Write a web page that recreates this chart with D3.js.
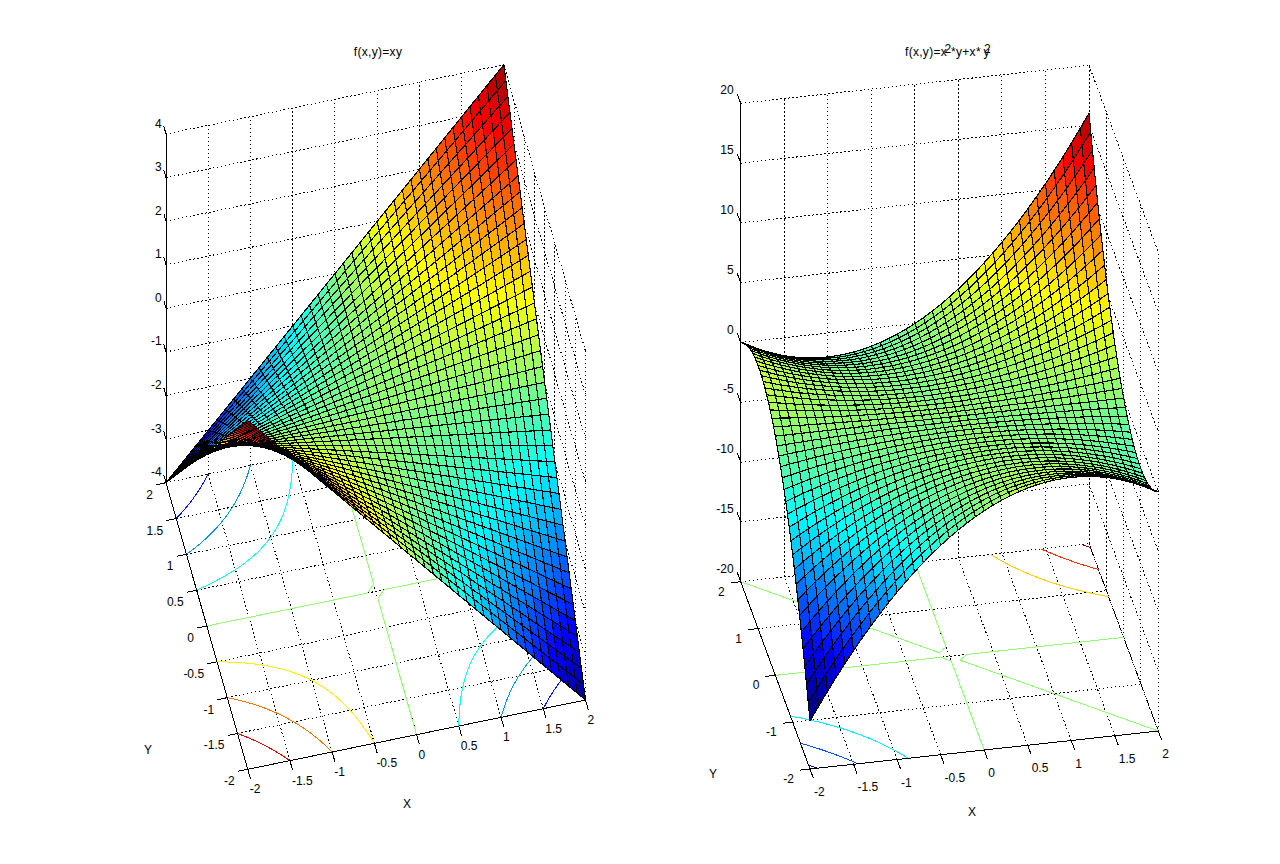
<!DOCTYPE html>
<html>
<head>
<meta charset="utf-8">
<script src="https://cdn.jsdelivr.net/npm/d3@7"></script>
<style>
body { margin: 0; background: #fff; }
text { font-family: "Liberation Sans", Arial, sans-serif; font-size: 12px; fill: #000; }
</style>
</head>
<body>
<script>
// mesh positions, same for both plots
var gridX = [-2,-1.9,-1.8,-1.7,-1.6,-1.5,-1.4,-1.3,-1.2,-1.1,-1,-0.9,-0.8,-0.7,-0.6,-0.5,-0.4,-0.3,-0.2,-0.1,0,0.1,0.2,0.3,0.4,0.5,0.6,0.7,0.8,0.9,1,1.1,1.2,1.3,1.4,1.5,1.6,1.7,1.8,1.9,2]
var gridY = [-2,-1.9,-1.8,-1.7,-1.6,-1.5,-1.4,-1.3,-1.2,-1.1,-1,-0.9,-0.8,-0.7,-0.6,-0.5,-0.4,-0.3,-0.2,-0.1,0,0.1,0.2,0.3,0.4,0.5,0.6,0.7,0.8,0.9,1,1.1,1.2,1.3,1.4,1.5,1.6,1.7,1.8,1.9,2]

// left plot, one row per gridY value
var heightsLeft = [
[4,3.8,3.6,3.4,3.2,3,2.8,2.6,2.4,2.2,2,1.8,1.6,1.4,1.2,1,0.8,0.6,0.4,0.2,0,-0.2,-0.4,-0.6,-0.8,-1,-1.2,-1.4,-1.6,-1.8,-2,-2.2,-2.4,-2.6,-2.8,-3,-3.2,-3.4,-3.6,-3.8,-4],
[3.8,3.61,3.42,3.23,3.04,2.85,2.66,2.47,2.28,2.09,1.9,1.71,1.52,1.33,1.14,0.95,0.76,0.57,0.38,0.19,0,-0.19,-0.38,-0.57,-0.76,-0.95,-1.14,-1.33,-1.52,-1.71,-1.9,-2.09,-2.28,-2.47,-2.66,-2.85,-3.04,-3.23,-3.42,-3.61,-3.8],
[3.6,3.42,3.24,3.06,2.88,2.7,2.52,2.34,2.16,1.98,1.8,1.62,1.44,1.26,1.08,0.9,0.72,0.54,0.36,0.18,0,-0.18,-0.36,-0.54,-0.72,-0.9,-1.08,-1.26,-1.44,-1.62,-1.8,-1.98,-2.16,-2.34,-2.52,-2.7,-2.88,-3.06,-3.24,-3.42,-3.6],
[3.4,3.23,3.06,2.89,2.72,2.55,2.38,2.21,2.04,1.87,1.7,1.53,1.36,1.19,1.02,0.85,0.68,0.51,0.34,0.17,0,-0.17,-0.34,-0.51,-0.68,-0.85,-1.02,-1.19,-1.36,-1.53,-1.7,-1.87,-2.04,-2.21,-2.38,-2.55,-2.72,-2.89,-3.06,-3.23,-3.4],
[3.2,3.04,2.88,2.72,2.56,2.4,2.24,2.08,1.92,1.76,1.6,1.44,1.28,1.12,0.96,0.8,0.64,0.48,0.32,0.16,0,-0.16,-0.32,-0.48,-0.64,-0.8,-0.96,-1.12,-1.28,-1.44,-1.6,-1.76,-1.92,-2.08,-2.24,-2.4,-2.56,-2.72,-2.88,-3.04,-3.2],
[3,2.85,2.7,2.55,2.4,2.25,2.1,1.95,1.8,1.65,1.5,1.35,1.2,1.05,0.9,0.75,0.6,0.45,0.3,0.15,0,-0.15,-0.3,-0.45,-0.6,-0.75,-0.9,-1.05,-1.2,-1.35,-1.5,-1.65,-1.8,-1.95,-2.1,-2.25,-2.4,-2.55,-2.7,-2.85,-3],
[2.8,2.66,2.52,2.38,2.24,2.1,1.96,1.82,1.68,1.54,1.4,1.26,1.12,0.98,0.84,0.7,0.56,0.42,0.28,0.14,0,-0.14,-0.28,-0.42,-0.56,-0.7,-0.84,-0.98,-1.12,-1.26,-1.4,-1.54,-1.68,-1.82,-1.96,-2.1,-2.24,-2.38,-2.52,-2.66,-2.8],
[2.6,2.47,2.34,2.21,2.08,1.95,1.82,1.69,1.56,1.43,1.3,1.17,1.04,0.91,0.78,0.65,0.52,0.39,0.26,0.13,0,-0.13,-0.26,-0.39,-0.52,-0.65,-0.78,-0.91,-1.04,-1.17,-1.3,-1.43,-1.56,-1.69,-1.82,-1.95,-2.08,-2.21,-2.34,-2.47,-2.6],
[2.4,2.28,2.16,2.04,1.92,1.8,1.68,1.56,1.44,1.32,1.2,1.08,0.96,0.84,0.72,0.6,0.48,0.36,0.24,0.12,0,-0.12,-0.24,-0.36,-0.48,-0.6,-0.72,-0.84,-0.96,-1.08,-1.2,-1.32,-1.44,-1.56,-1.68,-1.8,-1.92,-2.04,-2.16,-2.28,-2.4],
[2.2,2.09,1.98,1.87,1.76,1.65,1.54,1.43,1.32,1.21,1.1,0.99,0.88,0.77,0.66,0.55,0.44,0.33,0.22,0.11,0,-0.11,-0.22,-0.33,-0.44,-0.55,-0.66,-0.77,-0.88,-0.99,-1.1,-1.21,-1.32,-1.43,-1.54,-1.65,-1.76,-1.87,-1.98,-2.09,-2.2],
[2,1.9,1.8,1.7,1.6,1.5,1.4,1.3,1.2,1.1,1,0.9,0.8,0.7,0.6,0.5,0.4,0.3,0.2,0.1,0,-0.1,-0.2,-0.3,-0.4,-0.5,-0.6,-0.7,-0.8,-0.9,-1,-1.1,-1.2,-1.3,-1.4,-1.5,-1.6,-1.7,-1.8,-1.9,-2],
[1.8,1.71,1.62,1.53,1.44,1.35,1.26,1.17,1.08,0.99,0.9,0.81,0.72,0.63,0.54,0.45,0.36,0.27,0.18,0.09,0,-0.09,-0.18,-0.27,-0.36,-0.45,-0.54,-0.63,-0.72,-0.81,-0.9,-0.99,-1.08,-1.17,-1.26,-1.35,-1.44,-1.53,-1.62,-1.71,-1.8],
[1.6,1.52,1.44,1.36,1.28,1.2,1.12,1.04,0.96,0.88,0.8,0.72,0.64,0.56,0.48,0.4,0.32,0.24,0.16,0.08,0,-0.08,-0.16,-0.24,-0.32,-0.4,-0.48,-0.56,-0.64,-0.72,-0.8,-0.88,-0.96,-1.04,-1.12,-1.2,-1.28,-1.36,-1.44,-1.52,-1.6],
[1.4,1.33,1.26,1.19,1.12,1.05,0.98,0.91,0.84,0.77,0.7,0.63,0.56,0.49,0.42,0.35,0.28,0.21,0.14,0.07,0,-0.07,-0.14,-0.21,-0.28,-0.35,-0.42,-0.49,-0.56,-0.63,-0.7,-0.77,-0.84,-0.91,-0.98,-1.05,-1.12,-1.19,-1.26,-1.33,-1.4],
[1.2,1.14,1.08,1.02,0.96,0.9,0.84,0.78,0.72,0.66,0.6,0.54,0.48,0.42,0.36,0.3,0.24,0.18,0.12,0.06,0,-0.06,-0.12,-0.18,-0.24,-0.3,-0.36,-0.42,-0.48,-0.54,-0.6,-0.66,-0.72,-0.78,-0.84,-0.9,-0.96,-1.02,-1.08,-1.14,-1.2],
[1,0.95,0.9,0.85,0.8,0.75,0.7,0.65,0.6,0.55,0.5,0.45,0.4,0.35,0.3,0.25,0.2,0.15,0.1,0.05,0,-0.05,-0.1,-0.15,-0.2,-0.25,-0.3,-0.35,-0.4,-0.45,-0.5,-0.55,-0.6,-0.65,-0.7,-0.75,-0.8,-0.85,-0.9,-0.95,-1],
[0.8,0.76,0.72,0.68,0.64,0.6,0.56,0.52,0.48,0.44,0.4,0.36,0.32,0.28,0.24,0.2,0.16,0.12,0.08,0.04,0,-0.04,-0.08,-0.12,-0.16,-0.2,-0.24,-0.28,-0.32,-0.36,-0.4,-0.44,-0.48,-0.52,-0.56,-0.6,-0.64,-0.68,-0.72,-0.76,-0.8],
[0.6,0.57,0.54,0.51,0.48,0.45,0.42,0.39,0.36,0.33,0.3,0.27,0.24,0.21,0.18,0.15,0.12,0.09,0.06,0.03,0,-0.03,-0.06,-0.09,-0.12,-0.15,-0.18,-0.21,-0.24,-0.27,-0.3,-0.33,-0.36,-0.39,-0.42,-0.45,-0.48,-0.51,-0.54,-0.57,-0.6],
[0.4,0.38,0.36,0.34,0.32,0.3,0.28,0.26,0.24,0.22,0.2,0.18,0.16,0.14,0.12,0.1,0.08,0.06,0.04,0.02,0,-0.02,-0.04,-0.06,-0.08,-0.1,-0.12,-0.14,-0.16,-0.18,-0.2,-0.22,-0.24,-0.26,-0.28,-0.3,-0.32,-0.34,-0.36,-0.38,-0.4],
[0.2,0.19,0.18,0.17,0.16,0.15,0.14,0.13,0.12,0.11,0.1,0.09,0.08,0.07,0.06,0.05,0.04,0.03,0.02,0.01,0,-0.01,-0.02,-0.03,-0.04,-0.05,-0.06,-0.07,-0.08,-0.09,-0.1,-0.11,-0.12,-0.13,-0.14,-0.15,-0.16,-0.17,-0.18,-0.19,-0.2],
[0,0,0,0,0,0,0,0,0,0,0,0,0,0,0,0,0,0,0,0,0,0,0,0,0,0,0,0,0,0,0,0,0,0,0,0,0,0,0,0,0],
[-0.2,-0.19,-0.18,-0.17,-0.16,-0.15,-0.14,-0.13,-0.12,-0.11,-0.1,-0.09,-0.08,-0.07,-0.06,-0.05,-0.04,-0.03,-0.02,-0.01,0,0.01,0.02,0.03,0.04,0.05,0.06,0.07,0.08,0.09,0.1,0.11,0.12,0.13,0.14,0.15,0.16,0.17,0.18,0.19,0.2],
[-0.4,-0.38,-0.36,-0.34,-0.32,-0.3,-0.28,-0.26,-0.24,-0.22,-0.2,-0.18,-0.16,-0.14,-0.12,-0.1,-0.08,-0.06,-0.04,-0.02,0,0.02,0.04,0.06,0.08,0.1,0.12,0.14,0.16,0.18,0.2,0.22,0.24,0.26,0.28,0.3,0.32,0.34,0.36,0.38,0.4],
[-0.6,-0.57,-0.54,-0.51,-0.48,-0.45,-0.42,-0.39,-0.36,-0.33,-0.3,-0.27,-0.24,-0.21,-0.18,-0.15,-0.12,-0.09,-0.06,-0.03,0,0.03,0.06,0.09,0.12,0.15,0.18,0.21,0.24,0.27,0.3,0.33,0.36,0.39,0.42,0.45,0.48,0.51,0.54,0.57,0.6],
[-0.8,-0.76,-0.72,-0.68,-0.64,-0.6,-0.56,-0.52,-0.48,-0.44,-0.4,-0.36,-0.32,-0.28,-0.24,-0.2,-0.16,-0.12,-0.08,-0.04,0,0.04,0.08,0.12,0.16,0.2,0.24,0.28,0.32,0.36,0.4,0.44,0.48,0.52,0.56,0.6,0.64,0.68,0.72,0.76,0.8],
[-1,-0.95,-0.9,-0.85,-0.8,-0.75,-0.7,-0.65,-0.6,-0.55,-0.5,-0.45,-0.4,-0.35,-0.3,-0.25,-0.2,-0.15,-0.1,-0.05,0,0.05,0.1,0.15,0.2,0.25,0.3,0.35,0.4,0.45,0.5,0.55,0.6,0.65,0.7,0.75,0.8,0.85,0.9,0.95,1],
[-1.2,-1.14,-1.08,-1.02,-0.96,-0.9,-0.84,-0.78,-0.72,-0.66,-0.6,-0.54,-0.48,-0.42,-0.36,-0.3,-0.24,-0.18,-0.12,-0.06,0,0.06,0.12,0.18,0.24,0.3,0.36,0.42,0.48,0.54,0.6,0.66,0.72,0.78,0.84,0.9,0.96,1.02,1.08,1.14,1.2],
[-1.4,-1.33,-1.26,-1.19,-1.12,-1.05,-0.98,-0.91,-0.84,-0.77,-0.7,-0.63,-0.56,-0.49,-0.42,-0.35,-0.28,-0.21,-0.14,-0.07,0,0.07,0.14,0.21,0.28,0.35,0.42,0.49,0.56,0.63,0.7,0.77,0.84,0.91,0.98,1.05,1.12,1.19,1.26,1.33,1.4],
[-1.6,-1.52,-1.44,-1.36,-1.28,-1.2,-1.12,-1.04,-0.96,-0.88,-0.8,-0.72,-0.64,-0.56,-0.48,-0.4,-0.32,-0.24,-0.16,-0.08,0,0.08,0.16,0.24,0.32,0.4,0.48,0.56,0.64,0.72,0.8,0.88,0.96,1.04,1.12,1.2,1.28,1.36,1.44,1.52,1.6],
[-1.8,-1.71,-1.62,-1.53,-1.44,-1.35,-1.26,-1.17,-1.08,-0.99,-0.9,-0.81,-0.72,-0.63,-0.54,-0.45,-0.36,-0.27,-0.18,-0.09,0,0.09,0.18,0.27,0.36,0.45,0.54,0.63,0.72,0.81,0.9,0.99,1.08,1.17,1.26,1.35,1.44,1.53,1.62,1.71,1.8],
[-2,-1.9,-1.8,-1.7,-1.6,-1.5,-1.4,-1.3,-1.2,-1.1,-1,-0.9,-0.8,-0.7,-0.6,-0.5,-0.4,-0.3,-0.2,-0.1,0,0.1,0.2,0.3,0.4,0.5,0.6,0.7,0.8,0.9,1,1.1,1.2,1.3,1.4,1.5,1.6,1.7,1.8,1.9,2],
[-2.2,-2.09,-1.98,-1.87,-1.76,-1.65,-1.54,-1.43,-1.32,-1.21,-1.1,-0.99,-0.88,-0.77,-0.66,-0.55,-0.44,-0.33,-0.22,-0.11,0,0.11,0.22,0.33,0.44,0.55,0.66,0.77,0.88,0.99,1.1,1.21,1.32,1.43,1.54,1.65,1.76,1.87,1.98,2.09,2.2],
[-2.4,-2.28,-2.16,-2.04,-1.92,-1.8,-1.68,-1.56,-1.44,-1.32,-1.2,-1.08,-0.96,-0.84,-0.72,-0.6,-0.48,-0.36,-0.24,-0.12,0,0.12,0.24,0.36,0.48,0.6,0.72,0.84,0.96,1.08,1.2,1.32,1.44,1.56,1.68,1.8,1.92,2.04,2.16,2.28,2.4],
[-2.6,-2.47,-2.34,-2.21,-2.08,-1.95,-1.82,-1.69,-1.56,-1.43,-1.3,-1.17,-1.04,-0.91,-0.78,-0.65,-0.52,-0.39,-0.26,-0.13,0,0.13,0.26,0.39,0.52,0.65,0.78,0.91,1.04,1.17,1.3,1.43,1.56,1.69,1.82,1.95,2.08,2.21,2.34,2.47,2.6],
[-2.8,-2.66,-2.52,-2.38,-2.24,-2.1,-1.96,-1.82,-1.68,-1.54,-1.4,-1.26,-1.12,-0.98,-0.84,-0.7,-0.56,-0.42,-0.28,-0.14,0,0.14,0.28,0.42,0.56,0.7,0.84,0.98,1.12,1.26,1.4,1.54,1.68,1.82,1.96,2.1,2.24,2.38,2.52,2.66,2.8],
[-3,-2.85,-2.7,-2.55,-2.4,-2.25,-2.1,-1.95,-1.8,-1.65,-1.5,-1.35,-1.2,-1.05,-0.9,-0.75,-0.6,-0.45,-0.3,-0.15,0,0.15,0.3,0.45,0.6,0.75,0.9,1.05,1.2,1.35,1.5,1.65,1.8,1.95,2.1,2.25,2.4,2.55,2.7,2.85,3],
[-3.2,-3.04,-2.88,-2.72,-2.56,-2.4,-2.24,-2.08,-1.92,-1.76,-1.6,-1.44,-1.28,-1.12,-0.96,-0.8,-0.64,-0.48,-0.32,-0.16,0,0.16,0.32,0.48,0.64,0.8,0.96,1.12,1.28,1.44,1.6,1.76,1.92,2.08,2.24,2.4,2.56,2.72,2.88,3.04,3.2],
[-3.4,-3.23,-3.06,-2.89,-2.72,-2.55,-2.38,-2.21,-2.04,-1.87,-1.7,-1.53,-1.36,-1.19,-1.02,-0.85,-0.68,-0.51,-0.34,-0.17,0,0.17,0.34,0.51,0.68,0.85,1.02,1.19,1.36,1.53,1.7,1.87,2.04,2.21,2.38,2.55,2.72,2.89,3.06,3.23,3.4],
[-3.6,-3.42,-3.24,-3.06,-2.88,-2.7,-2.52,-2.34,-2.16,-1.98,-1.8,-1.62,-1.44,-1.26,-1.08,-0.9,-0.72,-0.54,-0.36,-0.18,0,0.18,0.36,0.54,0.72,0.9,1.08,1.26,1.44,1.62,1.8,1.98,2.16,2.34,2.52,2.7,2.88,3.06,3.24,3.42,3.6],
[-3.8,-3.61,-3.42,-3.23,-3.04,-2.85,-2.66,-2.47,-2.28,-2.09,-1.9,-1.71,-1.52,-1.33,-1.14,-0.95,-0.76,-0.57,-0.38,-0.19,0,0.19,0.38,0.57,0.76,0.95,1.14,1.33,1.52,1.71,1.9,2.09,2.28,2.47,2.66,2.85,3.04,3.23,3.42,3.61,3.8],
[-4,-3.8,-3.6,-3.4,-3.2,-3,-2.8,-2.6,-2.4,-2.2,-2,-1.8,-1.6,-1.4,-1.2,-1,-0.8,-0.6,-0.4,-0.2,0,0.2,0.4,0.6,0.8,1,1.2,1.4,1.6,1.8,2,2.2,2.4,2.6,2.8,3,3.2,3.4,3.6,3.8,4]
]

// right plot, one row per gridY value
var heightsRight = [
[-16,-14.82,-13.68,-12.58,-11.52,-10.5,-9.52,-8.58,-7.68,-6.82,-6,-5.22,-4.48,-3.78,-3.12,-2.5,-1.92,-1.38,-0.88,-0.42,0,0.38,0.72,1.02,1.28,1.5,1.68,1.82,1.92,1.98,2,1.98,1.92,1.82,1.68,1.5,1.28,1.02,0.72,0.38,0],
[-14.82,-13.72,-12.65,-11.63,-10.64,-9.69,-8.78,-7.9,-7.07,-6.27,-5.51,-4.79,-4.1,-3.46,-2.85,-2.28,-1.75,-1.25,-0.8,-0.38,0,0.34,0.65,0.91,1.14,1.33,1.48,1.6,1.67,1.71,1.71,1.67,1.6,1.48,1.33,1.14,0.91,0.65,0.34,0,-0.38],
[-13.68,-12.65,-11.66,-10.71,-9.79,-8.91,-8.06,-7.25,-6.48,-5.74,-5.04,-4.37,-3.74,-3.15,-2.59,-2.07,-1.58,-1.13,-0.72,-0.34,0,0.31,0.58,0.81,1.01,1.17,1.3,1.39,1.44,1.46,1.44,1.39,1.3,1.17,1.01,0.81,0.58,0.31,0,-0.34,-0.72],
[-12.58,-11.63,-10.71,-9.83,-8.98,-8.16,-7.38,-6.63,-5.92,-5.24,-4.59,-3.98,-3.4,-2.86,-2.35,-1.87,-1.43,-1.02,-0.65,-0.31,0,0.27,0.51,0.71,0.88,1.02,1.12,1.19,1.22,1.22,1.19,1.12,1.02,0.88,0.71,0.51,0.27,0,-0.31,-0.65,-1.02],
[-11.52,-10.64,-9.79,-8.98,-8.19,-7.44,-6.72,-6.03,-5.38,-4.75,-4.16,-3.6,-3.07,-2.58,-2.11,-1.68,-1.28,-0.91,-0.58,-0.27,0,0.24,0.45,0.62,0.77,0.88,0.96,1.01,1.02,1.01,0.96,0.88,0.77,0.62,0.45,0.24,0,-0.27,-0.58,-0.91,-1.28],
[-10.5,-9.69,-8.91,-8.16,-7.44,-6.75,-6.09,-5.46,-4.86,-4.29,-3.75,-3.24,-2.76,-2.31,-1.89,-1.5,-1.14,-0.81,-0.51,-0.24,0,0.21,0.39,0.54,0.66,0.75,0.81,0.84,0.84,0.81,0.75,0.66,0.54,0.39,0.21,0,-0.24,-0.51,-0.81,-1.14,-1.5],
[-9.52,-8.78,-8.06,-7.38,-6.72,-6.09,-5.49,-4.91,-4.37,-3.85,-3.36,-2.9,-2.46,-2.06,-1.68,-1.33,-1.01,-0.71,-0.45,-0.21,0,0.18,0.34,0.46,0.56,0.63,0.67,0.69,0.67,0.63,0.56,0.46,0.34,0.18,0,-0.21,-0.45,-0.71,-1.01,-1.33,-1.68],
[-8.58,-7.9,-7.25,-6.63,-6.03,-5.46,-4.91,-4.39,-3.9,-3.43,-2.99,-2.57,-2.18,-1.82,-1.48,-1.17,-0.88,-0.62,-0.39,-0.18,0,0.16,0.29,0.39,0.47,0.52,0.55,0.55,0.52,0.47,0.39,0.29,0.16,0,-0.18,-0.39,-0.62,-0.88,-1.17,-1.48,-1.82],
[-7.68,-7.07,-6.48,-5.92,-5.38,-4.86,-4.37,-3.9,-3.46,-3.04,-2.64,-2.27,-1.92,-1.6,-1.3,-1.02,-0.77,-0.54,-0.34,-0.16,0,0.13,0.24,0.32,0.38,0.42,0.43,0.42,0.38,0.32,0.24,0.13,0,-0.16,-0.34,-0.54,-0.77,-1.02,-1.3,-1.6,-1.92],
[-6.82,-6.27,-5.74,-5.24,-4.75,-4.29,-3.85,-3.43,-3.04,-2.66,-2.31,-1.98,-1.67,-1.39,-1.12,-0.88,-0.66,-0.46,-0.29,-0.13,0,0.11,0.2,0.26,0.31,0.33,0.33,0.31,0.26,0.2,0.11,0,-0.13,-0.29,-0.46,-0.66,-0.88,-1.12,-1.39,-1.67,-1.98],
[-6,-5.51,-5.04,-4.59,-4.16,-3.75,-3.36,-2.99,-2.64,-2.31,-2,-1.71,-1.44,-1.19,-0.96,-0.75,-0.56,-0.39,-0.24,-0.11,0,0.09,0.16,0.21,0.24,0.25,0.24,0.21,0.16,0.09,0,-0.11,-0.24,-0.39,-0.56,-0.75,-0.96,-1.19,-1.44,-1.71,-2],
[-5.22,-4.79,-4.37,-3.98,-3.6,-3.24,-2.9,-2.57,-2.27,-1.98,-1.71,-1.46,-1.22,-1.01,-0.81,-0.63,-0.47,-0.32,-0.2,-0.09,0,0.07,0.13,0.16,0.18,0.18,0.16,0.13,0.07,0,-0.09,-0.2,-0.32,-0.47,-0.63,-0.81,-1.01,-1.22,-1.46,-1.71,-1.98],
[-4.48,-4.1,-3.74,-3.4,-3.07,-2.76,-2.46,-2.18,-1.92,-1.67,-1.44,-1.22,-1.02,-0.84,-0.67,-0.52,-0.38,-0.26,-0.16,-0.07,0,0.06,0.1,0.12,0.13,0.12,0.1,0.06,0,-0.07,-0.16,-0.26,-0.38,-0.52,-0.67,-0.84,-1.02,-1.22,-1.44,-1.67,-1.92],
[-3.78,-3.46,-3.15,-2.86,-2.58,-2.31,-2.06,-1.82,-1.6,-1.39,-1.19,-1.01,-0.84,-0.69,-0.55,-0.42,-0.31,-0.21,-0.13,-0.06,0,0.04,0.07,0.08,0.08,0.07,0.04,0,-0.06,-0.13,-0.21,-0.31,-0.42,-0.55,-0.69,-0.84,-1.01,-1.19,-1.39,-1.6,-1.82],
[-3.12,-2.85,-2.59,-2.35,-2.11,-1.89,-1.68,-1.48,-1.3,-1.12,-0.96,-0.81,-0.67,-0.55,-0.43,-0.33,-0.24,-0.16,-0.1,-0.04,0,0.03,0.05,0.05,0.05,0.03,0,-0.04,-0.1,-0.16,-0.24,-0.33,-0.43,-0.55,-0.67,-0.81,-0.96,-1.12,-1.3,-1.48,-1.68],
[-2.5,-2.28,-2.07,-1.87,-1.68,-1.5,-1.33,-1.17,-1.02,-0.88,-0.75,-0.63,-0.52,-0.42,-0.33,-0.25,-0.18,-0.12,-0.07,-0.03,0,0.02,0.03,0.03,0.02,0,-0.03,-0.07,-0.12,-0.18,-0.25,-0.33,-0.42,-0.52,-0.63,-0.75,-0.88,-1.02,-1.17,-1.33,-1.5],
[-1.92,-1.75,-1.58,-1.43,-1.28,-1.14,-1.01,-0.88,-0.77,-0.66,-0.56,-0.47,-0.38,-0.31,-0.24,-0.18,-0.13,-0.08,-0.05,-0.02,0,0.01,0.02,0.01,0,-0.02,-0.05,-0.08,-0.13,-0.18,-0.24,-0.31,-0.38,-0.47,-0.56,-0.66,-0.77,-0.88,-1.01,-1.14,-1.28],
[-1.38,-1.25,-1.13,-1.02,-0.91,-0.81,-0.71,-0.62,-0.54,-0.46,-0.39,-0.32,-0.26,-0.21,-0.16,-0.12,-0.08,-0.05,-0.03,-0.01,0,0.01,0.01,0,-0.01,-0.03,-0.05,-0.08,-0.12,-0.16,-0.21,-0.26,-0.32,-0.39,-0.46,-0.54,-0.62,-0.71,-0.81,-0.91,-1.02],
[-0.88,-0.8,-0.72,-0.65,-0.58,-0.51,-0.45,-0.39,-0.34,-0.29,-0.24,-0.2,-0.16,-0.13,-0.1,-0.07,-0.05,-0.03,-0.02,-0.006,0,0.002,0,-0.01,-0.02,-0.03,-0.05,-0.07,-0.1,-0.13,-0.16,-0.2,-0.24,-0.29,-0.34,-0.39,-0.45,-0.51,-0.58,-0.65,-0.72],
[-0.42,-0.38,-0.34,-0.31,-0.27,-0.24,-0.21,-0.18,-0.16,-0.13,-0.11,-0.09,-0.07,-0.06,-0.04,-0.03,-0.02,-0.01,-0.006,-0.002,0,0,-0.002,-0.006,-0.01,-0.02,-0.03,-0.04,-0.06,-0.07,-0.09,-0.11,-0.13,-0.16,-0.18,-0.21,-0.24,-0.27,-0.31,-0.34,-0.38],
[0,0,0,0,0,0,0,0,0,0,0,0,0,0,0,0,0,0,0,0,0,0,0,0,0,0,0,0,0,0,0,0,0,0,0,0,0,0,0,0,0],
[0.38,0.34,0.31,0.27,0.24,0.21,0.18,0.16,0.13,0.11,0.09,0.07,0.06,0.04,0.03,0.02,0.01,0.006,0.002,0,0,0.002,0.006,0.01,0.02,0.03,0.04,0.06,0.07,0.09,0.11,0.13,0.16,0.18,0.21,0.24,0.27,0.31,0.34,0.38,0.42],
[0.72,0.65,0.58,0.51,0.45,0.39,0.34,0.29,0.24,0.2,0.16,0.13,0.1,0.07,0.05,0.03,0.02,0.01,0,-0.002,0,0.006,0.02,0.03,0.05,0.07,0.1,0.13,0.16,0.2,0.24,0.29,0.34,0.39,0.45,0.51,0.58,0.65,0.72,0.8,0.88],
[1.02,0.91,0.81,0.71,0.62,0.54,0.46,0.39,0.32,0.26,0.21,0.16,0.12,0.08,0.05,0.03,0.01,0,-0.01,-0.01,0,0.01,0.03,0.05,0.08,0.12,0.16,0.21,0.26,0.32,0.39,0.46,0.54,0.62,0.71,0.81,0.91,1.02,1.13,1.25,1.38],
[1.28,1.14,1.01,0.88,0.77,0.66,0.56,0.47,0.38,0.31,0.24,0.18,0.13,0.08,0.05,0.02,0,-0.01,-0.02,-0.01,0,0.02,0.05,0.08,0.13,0.18,0.24,0.31,0.38,0.47,0.56,0.66,0.77,0.88,1.01,1.14,1.28,1.43,1.58,1.75,1.92],
[1.5,1.33,1.17,1.02,0.88,0.75,0.63,0.52,0.42,0.33,0.25,0.18,0.12,0.07,0.03,0,-0.02,-0.03,-0.03,-0.02,0,0.03,0.07,0.12,0.18,0.25,0.33,0.42,0.52,0.63,0.75,0.88,1.02,1.17,1.33,1.5,1.68,1.87,2.07,2.28,2.5],
[1.68,1.48,1.3,1.12,0.96,0.81,0.67,0.55,0.43,0.33,0.24,0.16,0.1,0.04,0,-0.03,-0.05,-0.05,-0.05,-0.03,0,0.04,0.1,0.16,0.24,0.33,0.43,0.55,0.67,0.81,0.96,1.12,1.3,1.48,1.68,1.89,2.11,2.35,2.59,2.85,3.12],
[1.82,1.6,1.39,1.19,1.01,0.84,0.69,0.55,0.42,0.31,0.21,0.13,0.06,0,-0.04,-0.07,-0.08,-0.08,-0.07,-0.04,0,0.06,0.13,0.21,0.31,0.42,0.55,0.69,0.84,1.01,1.19,1.39,1.6,1.82,2.06,2.31,2.58,2.86,3.15,3.46,3.78],
[1.92,1.67,1.44,1.22,1.02,0.84,0.67,0.52,0.38,0.26,0.16,0.07,0,-0.06,-0.1,-0.12,-0.13,-0.12,-0.1,-0.06,0,0.07,0.16,0.26,0.38,0.52,0.67,0.84,1.02,1.22,1.44,1.67,1.92,2.18,2.46,2.76,3.07,3.4,3.74,4.1,4.48],
[1.98,1.71,1.46,1.22,1.01,0.81,0.63,0.47,0.32,0.2,0.09,0,-0.07,-0.13,-0.16,-0.18,-0.18,-0.16,-0.13,-0.07,0,0.09,0.2,0.32,0.47,0.63,0.81,1.01,1.22,1.46,1.71,1.98,2.27,2.57,2.9,3.24,3.6,3.98,4.37,4.79,5.22],
[2,1.71,1.44,1.19,0.96,0.75,0.56,0.39,0.24,0.11,0,-0.09,-0.16,-0.21,-0.24,-0.25,-0.24,-0.21,-0.16,-0.09,0,0.11,0.24,0.39,0.56,0.75,0.96,1.19,1.44,1.71,2,2.31,2.64,2.99,3.36,3.75,4.16,4.59,5.04,5.51,6],
[1.98,1.67,1.39,1.12,0.88,0.66,0.46,0.29,0.13,0,-0.11,-0.2,-0.26,-0.31,-0.33,-0.33,-0.31,-0.26,-0.2,-0.11,0,0.13,0.29,0.46,0.66,0.88,1.12,1.39,1.67,1.98,2.31,2.66,3.04,3.43,3.85,4.29,4.75,5.24,5.74,6.27,6.82],
[1.92,1.6,1.3,1.02,0.77,0.54,0.34,0.16,0,-0.13,-0.24,-0.32,-0.38,-0.42,-0.43,-0.42,-0.38,-0.32,-0.24,-0.13,0,0.16,0.34,0.54,0.77,1.02,1.3,1.6,1.92,2.27,2.64,3.04,3.46,3.9,4.37,4.86,5.38,5.92,6.48,7.07,7.68],
[1.82,1.48,1.17,0.88,0.62,0.39,0.18,0,-0.16,-0.29,-0.39,-0.47,-0.52,-0.55,-0.55,-0.52,-0.47,-0.39,-0.29,-0.16,0,0.18,0.39,0.62,0.88,1.17,1.48,1.82,2.18,2.57,2.99,3.43,3.9,4.39,4.91,5.46,6.03,6.63,7.25,7.9,8.58],
[1.68,1.33,1.01,0.71,0.45,0.21,0,-0.18,-0.34,-0.46,-0.56,-0.63,-0.67,-0.69,-0.67,-0.63,-0.56,-0.46,-0.34,-0.18,0,0.21,0.45,0.71,1.01,1.33,1.68,2.06,2.46,2.9,3.36,3.85,4.37,4.91,5.49,6.09,6.72,7.38,8.06,8.78,9.52],
[1.5,1.14,0.81,0.51,0.24,0,-0.21,-0.39,-0.54,-0.66,-0.75,-0.81,-0.84,-0.84,-0.81,-0.75,-0.66,-0.54,-0.39,-0.21,0,0.24,0.51,0.81,1.14,1.5,1.89,2.31,2.76,3.24,3.75,4.29,4.86,5.46,6.09,6.75,7.44,8.16,8.91,9.69,10.5],
[1.28,0.91,0.58,0.27,0,-0.24,-0.45,-0.62,-0.77,-0.88,-0.96,-1.01,-1.02,-1.01,-0.96,-0.88,-0.77,-0.62,-0.45,-0.24,0,0.27,0.58,0.91,1.28,1.68,2.11,2.58,3.07,3.6,4.16,4.75,5.38,6.03,6.72,7.44,8.19,8.98,9.79,10.64,11.52],
[1.02,0.65,0.31,0,-0.27,-0.51,-0.71,-0.88,-1.02,-1.12,-1.19,-1.22,-1.22,-1.19,-1.12,-1.02,-0.88,-0.71,-0.51,-0.27,0,0.31,0.65,1.02,1.43,1.87,2.35,2.86,3.4,3.98,4.59,5.24,5.92,6.63,7.38,8.16,8.98,9.83,10.71,11.63,12.58],
[0.72,0.34,0,-0.31,-0.58,-0.81,-1.01,-1.17,-1.3,-1.39,-1.44,-1.46,-1.44,-1.39,-1.3,-1.17,-1.01,-0.81,-0.58,-0.31,0,0.34,0.72,1.13,1.58,2.07,2.59,3.15,3.74,4.37,5.04,5.74,6.48,7.25,8.06,8.91,9.79,10.71,11.66,12.65,13.68],
[0.38,0,-0.34,-0.65,-0.91,-1.14,-1.33,-1.48,-1.6,-1.67,-1.71,-1.71,-1.67,-1.6,-1.48,-1.33,-1.14,-0.91,-0.65,-0.34,0,0.38,0.8,1.25,1.75,2.28,2.85,3.46,4.1,4.79,5.51,6.27,7.07,7.9,8.78,9.69,10.64,11.63,12.65,13.72,14.82],
[0,-0.38,-0.72,-1.02,-1.28,-1.5,-1.68,-1.82,-1.92,-1.98,-2,-1.98,-1.92,-1.82,-1.68,-1.5,-1.28,-1.02,-0.72,-0.38,0,0.42,0.88,1.38,1.92,2.5,3.12,3.78,4.48,5.22,6,6.82,7.68,8.58,9.52,10.5,11.52,12.58,13.68,14.82,16]
]

// tick values and contour levels
var ticksXLeft = [-2,-1.5,-1,-0.5,0,0.5,1,1.5,2]
var ticksYLeft = [-2,-1.5,-1,-0.5,0,0.5,1,1.5,2]
var ticksZLeft = [-4,-3,-2,-1,0,1,2,3,4]
var levelsLeft = [-3,-2,-1,0,1,2,3]

var ticksXRight = [-2,-1.5,-1,-0.5,0,0.5,1,1.5,2]
var ticksYRight = [-2,-1,0,1,2]
var ticksZRight = [-20,-15,-10,-5,0,5,10,15,20]
var levelsRight = [-15,-10,-5,0,5,10,15]

// matlab jet, 64 steps
var jet64 = d3.range(64).map(function (i) {
	var t = (i + 1) / 64
	function ch(c) { return Math.round(255 * Math.max(0, Math.min(1, 1.5 - Math.abs(4 * t - c)))) }
	return d3.rgb(ch(3), ch(2), ch(1)).formatHex()
})

var svg = d3.select("body").append("svg")
	.attr("width", 1280)
	.attr("height", 864)

function drawPlot(p) {
	var n = gridX.length
	var g = svg.append("g")

	// the view is orthographic, so each data axis moves the screen point by a fixed vector
	var xDx = d3.scaleLinear().domain([-2, 2]).range([0, p.xVec[0]])
	var xDy = d3.scaleLinear().domain([-2, 2]).range([0, p.xVec[1]])
	var yDx = d3.scaleLinear().domain([-2, 2]).range([0, p.yVec[0]])
	var yDy = d3.scaleLinear().domain([-2, 2]).range([0, p.yVec[1]])
	var zDy = d3.scaleLinear().domain([p.zTicks[0], p.zTicks[p.zTicks.length - 1]]).range([0, -p.zHeight])
	var zMin = p.zTicks[0], zMax = p.zTicks[p.zTicks.length - 1]

	function proj(x, y, z) {
		return [p.origin[0] + xDx(x) + yDx(y), p.origin[1] + xDy(x) + yDy(y) + zDy(z)]
	}

	var allZ = d3.merge(p.z)
	var color = d3.scaleQuantize().domain(d3.extent(allZ)).range(jet64)

	function line(a, b, cls) {
		return g.append("line")
			.attr("x1", a[0]).attr("y1", a[1])
			.attr("x2", b[0]).attr("y2", b[1])
			.attr("stroke", "#000")
			.attr("stroke-width", 1)
			.attr("stroke-dasharray", cls == "grid" ? "1.5,2.5" : null)
			.attr("shape-rendering", "crispEdges")
	}

	// floor and the two back walls
	p.xTicks.forEach(function (x) {
		line(proj(x, -2, zMin), proj(x, 2, zMin), "grid")
		line(proj(x, 2, zMin), proj(x, 2, zMax), "grid")
	})
	p.yTicks.forEach(function (y) {
		line(proj(-2, y, zMin), proj(2, y, zMin), "grid")
		line(proj(2, y, zMin), proj(2, y, zMax), "grid")
	})
	p.zTicks.forEach(function (z) {
		line(proj(-2, 2, z), proj(2, 2, z), "grid")
		line(proj(2, 2, z), proj(2, -2, z), "grid")
	})

	// contours on the floor, d3.contours closes rings along the border so skip those pieces
	var gridToX = d3.scaleLinear().domain([0.5, n - 0.5]).range([-2, 2])
	var gridToY = d3.scaleLinear().domain([0.5, n - 0.5]).range([-2, 2])
	function onBorder(c) { return c[0] <= 0 || c[1] <= 0 || c[0] >= n || c[1] >= n }
	var contours = d3.contours().size([n, n]).thresholds(p.levels)(allZ)
	contours.forEach(function (c) {
		var path = ""
		c.coordinates.forEach(function (poly) {
			poly.forEach(function (ring) {
				for (var k = 1; k < ring.length; k++) {
					if (onBorder(ring[k - 1]) || onBorder(ring[k])) continue
					var a = proj(gridToX(ring[k - 1][0]), gridToY(ring[k - 1][1]), zMin)
					var b = proj(gridToX(ring[k][0]), gridToY(ring[k][1]), zMin)
					path += "M" + a[0] + "," + a[1] + "L" + b[0] + "," + b[1]
				}
			})
		})
		g.append("path")
			.attr("d", path)
			.attr("fill", "none")
			.attr("stroke", color(c.value))
			.attr("stroke-width", 1)
			.attr("shape-rendering", "crispEdges")
	})

	// axes
	var xLen = Math.hypot(p.xVec[0], p.xVec[1])
	var yLen = Math.hypot(p.yVec[0], p.yVec[1])
	line(proj(-2, -2, zMin), proj(2, -2, zMin))
	line(proj(-2, -2, zMin), proj(-2, 2, zMin))
	line(proj(-2, 2, zMin), proj(-2, 2, zMax))

	// surface cells, far corner first
	var cells = []
	for (var j = n - 2; j >= 0; j--) {
		for (var i = n - 2; i >= 0; i--) {
			cells.push({ i: i, j: j })
		}
	}
	g.append("g").selectAll("polygon")
		.data(cells)
		.enter()
		.append("polygon")
		.attr("points", function (d) {
			var i = d.i, j = d.j
			return [proj(gridX[i], gridY[j], p.z[j][i]),
				proj(gridX[i + 1], gridY[j], p.z[j][i + 1]),
				proj(gridX[i + 1], gridY[j + 1], p.z[j + 1][i + 1]),
				proj(gridX[i], gridY[j + 1], p.z[j + 1][i])].join(" ")
		})
		.attr("fill", function (d) { return color(p.z[d.j][d.i]) })
		.attr("stroke", "#000")
		.attr("stroke-width", 1.15)
		.attr("stroke-linejoin", "round")
		.attr("shape-rendering", "crispEdges")

	// ticks and labels
	p.xTicks.forEach(function (x) {
		var a = proj(x, -2, zMin)
		line(a, [a[0] - p.yVec[0] / yLen * 10, a[1] - p.yVec[1] / yLen * 10])
		g.append("text").attr("x", a[0] + p.xLab[0]).attr("y", a[1] + p.xLab[1]).text(x)
	})
	p.yTicks.forEach(function (y) {
		var a = proj(-2, y, zMin)
		line(a, [a[0] - p.xVec[0] / xLen * 10, a[1] - p.xVec[1] / xLen * 10])
		g.append("text").attr("x", a[0] + p.yLab[0]).attr("y", a[1] + p.yLab[1])
			.attr("text-anchor", "end").text(y)
	})
	p.zTicks.forEach(function (z) {
		var a = proj(-2, 2, z)
		line(a, [a[0] + p.yVec[0] / yLen * p.zTick, a[1] + p.yVec[1] / yLen * p.zTick])
		g.append("text").attr("x", a[0] + p.zLab[0]).attr("y", a[1] + p.zLab[1])
			.attr("text-anchor", "end").text(z)
	})
	g.append("text").attr("x", p.xName[0]).attr("y", p.xName[1]).attr("text-anchor", "middle").text("X")
	g.append("text").attr("x", p.yName[0]).attr("y", p.yName[1]).attr("text-anchor", "middle").text("Y")
}

drawPlot({
	z: heightsLeft, xTicks: ticksXLeft, yTicks: ticksYLeft, zTicks: ticksZLeft, levels: levelsLeft,
	origin: [247.7, 769.3], xVec: [337.8, -69.3], yVec: [-81.7, -286.6], zHeight: 348.7,
	xLab: [2, 24], yLab: [-13, 16], zLab: [-4.4, -6.5], zTick: 8,
	xName: [407, 808], yName: [148, 754]
})

drawPlot({
	z: heightsRight, xTicks: ticksXRight, yTicks: ticksYRight, zTicks: ticksZRight, levels: levelsRight,
	origin: [810, 769], xVec: [348.3, -38], yVec: [-69.3, -187.3], zHeight: 478.4,
	xLab: [4, 27], yLab: [-16, 14], zLab: [-7, -9], zTick: 10,
	xName: [972, 816], yName: [713, 778]
})

// titles, the right one keeps its superscripts on top of the letters like the original
svg.append("text").attr("x", 378).attr("y", 56)
	.attr("text-anchor", "middle")
	.style("letter-spacing", "0.3px")
	.text("f(x,y)=xy")

var rightTitle = svg.append("text").style("letter-spacing", "0.3px")
var titleBits = [["f(x,y)=x", 905, 56], ["2", 944.5, 53], ["*y+x*", 951, 56], ["y", 983.5, 56], ["2", 984, 53]]
titleBits.forEach(function (b) {
	rightTitle.append("tspan").attr("x", b[1]).attr("y", b[2]).text(b[0])
})
</script>
</body>
</html>
